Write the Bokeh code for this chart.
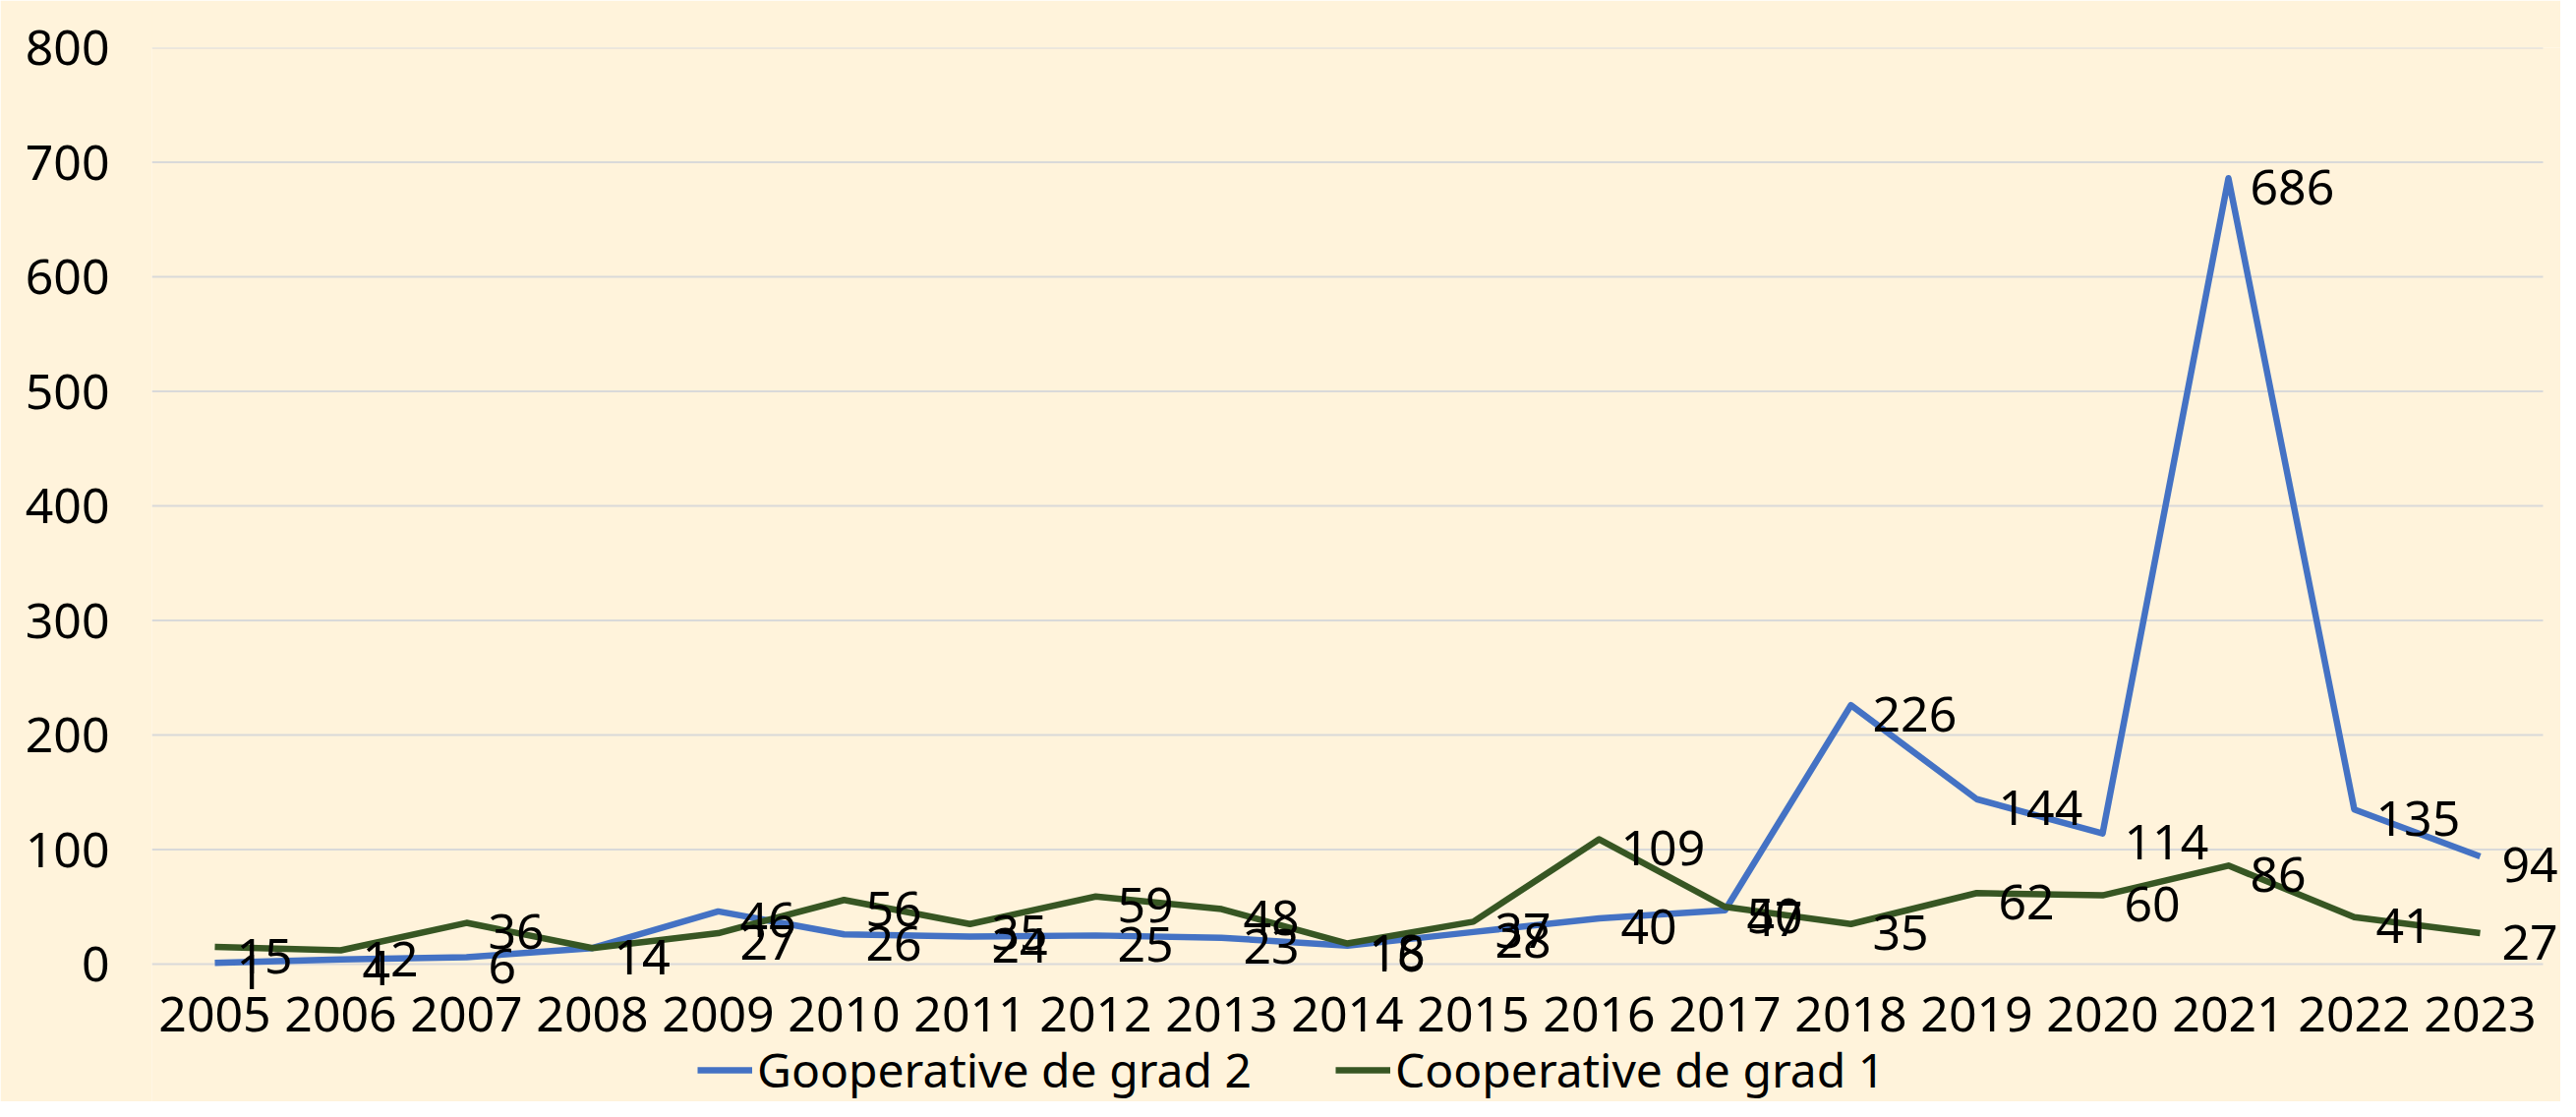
from bokeh.plotting import figure
from bokeh.models import ColumnDataSource, LabelSet, Legend, LegendItem, Range1d, FixedTicker
from bokeh.core.properties import value
from bokeh.embed import file_html
from bokeh.resources import INLINE

years = [str(y) for y in range(2005, 2024)]
grad2 = [1, 4, 6, 14, 46, 26, 24, 25, 23, 16, 28, 40, 47, 226, 144, 114, 686, 135, 94]
grad1 = [15, 12, 36, 14, 27, 56, 35, 59, 48, 18, 37, 109, 50, 35, 62, 60, 86, 41, 27]
y_ticks = [0, 100, 200, 300, 400, 500, 600, 700, 800]
name2 = "Gooperative de grad 2"
name1 = "Cooperative de grad 1"

BG = "#FFF3DB"
BLUE = "#4472C4"
GREEN = "#375623"
FONT = "Noto Sans"

W, H = 2604, 1120
LEFT, TOP = 154, 48
BAND = 128.0          # px per year
PX_PER_UNIT = 1.165   # px per value unit

n = len(years)
xpos = [i + 0.5 for i in range(n)]
# frame runs to the right and bottom page edges so no label gets clipped
x_end = (W - LEFT) / BAND
y_lo = 800 - (H - TOP) / PX_PER_UNIT

p = figure(x_range=Range1d(0, x_end), y_range=Range1d(y_lo, 800), width=W, height=H,
           output_backend="svg", toolbar_location=None,
           min_border_left=LEFT, min_border_right=0, min_border_top=TOP,
           min_border_bottom=0)
p.background_fill_color = BG
p.border_fill_color = BG
p.outline_line_color = None

p.xgrid.grid_line_color = None
p.ygrid.grid_line_color = None
p.segment(x0=[0] * len(y_ticks), x1=[n] * len(y_ticks), y0=y_ticks, y1=y_ticks,
          line_color="#D9D9D9", line_width=2)

p.yaxis.ticker = FixedTicker(ticks=y_ticks)
p.xaxis.ticker = FixedTicker(ticks=xpos)
p.xaxis.major_label_overrides = {x: y for x, y in zip(xpos, years)}
p.xaxis.fixed_location = 0

for ax in (p.xaxis, p.yaxis):
    ax.axis_line_color = None
    ax.major_tick_line_color = None
    ax.minor_tick_line_color = None
    ax.major_tick_out = 0
    ax.major_tick_in = 0
    ax.major_label_text_font = FONT
    ax.major_label_text_font_size = "50px"
    ax.major_label_text_color = "#000000"
p.yaxis.major_label_standoff = 43
p.xaxis.major_label_standoff = 33

src2 = ColumnDataSource(dict(x=xpos, y=grad2, t=[str(v) for v in grad2]))
src1 = ColumnDataSource(dict(x=xpos, y=grad1, t=[str(v) for v in grad1]))

r2 = p.line("x", "y", source=src2, line_color=BLUE, line_width=6.5, line_join="round")
r1 = p.line("x", "y", source=src1, line_color=GREEN, line_width=6.5, line_join="round")

for src in (src2, src1):
    p.add_layout(LabelSet(x="x", y="y", text="t", source=src, x_offset=22, y_offset=-9,
                          text_align="left", text_baseline="middle",
                          text_font=value(FONT), text_font_size="50px",
                          text_color="#000000"))

legend = Legend(items=[LegendItem(label=name2, renderers=[r2]),
                       LegendItem(label=name1, renderers=[r1])],
                orientation="horizontal", location=(555, 0))
legend.label_text_font = FONT
legend.label_text_font_size = "48px"
legend.label_text_color = "#000000"
legend.glyph_width = 56
legend.glyph_height = 20
legend.label_standoff = 5
legend.spacing = 85
legend.padding = 0
legend.margin = 0
legend.background_fill_alpha = 0
legend.border_line_color = None
p.add_layout(legend)

open("out.html", "w").write(file_html(p, INLINE))
